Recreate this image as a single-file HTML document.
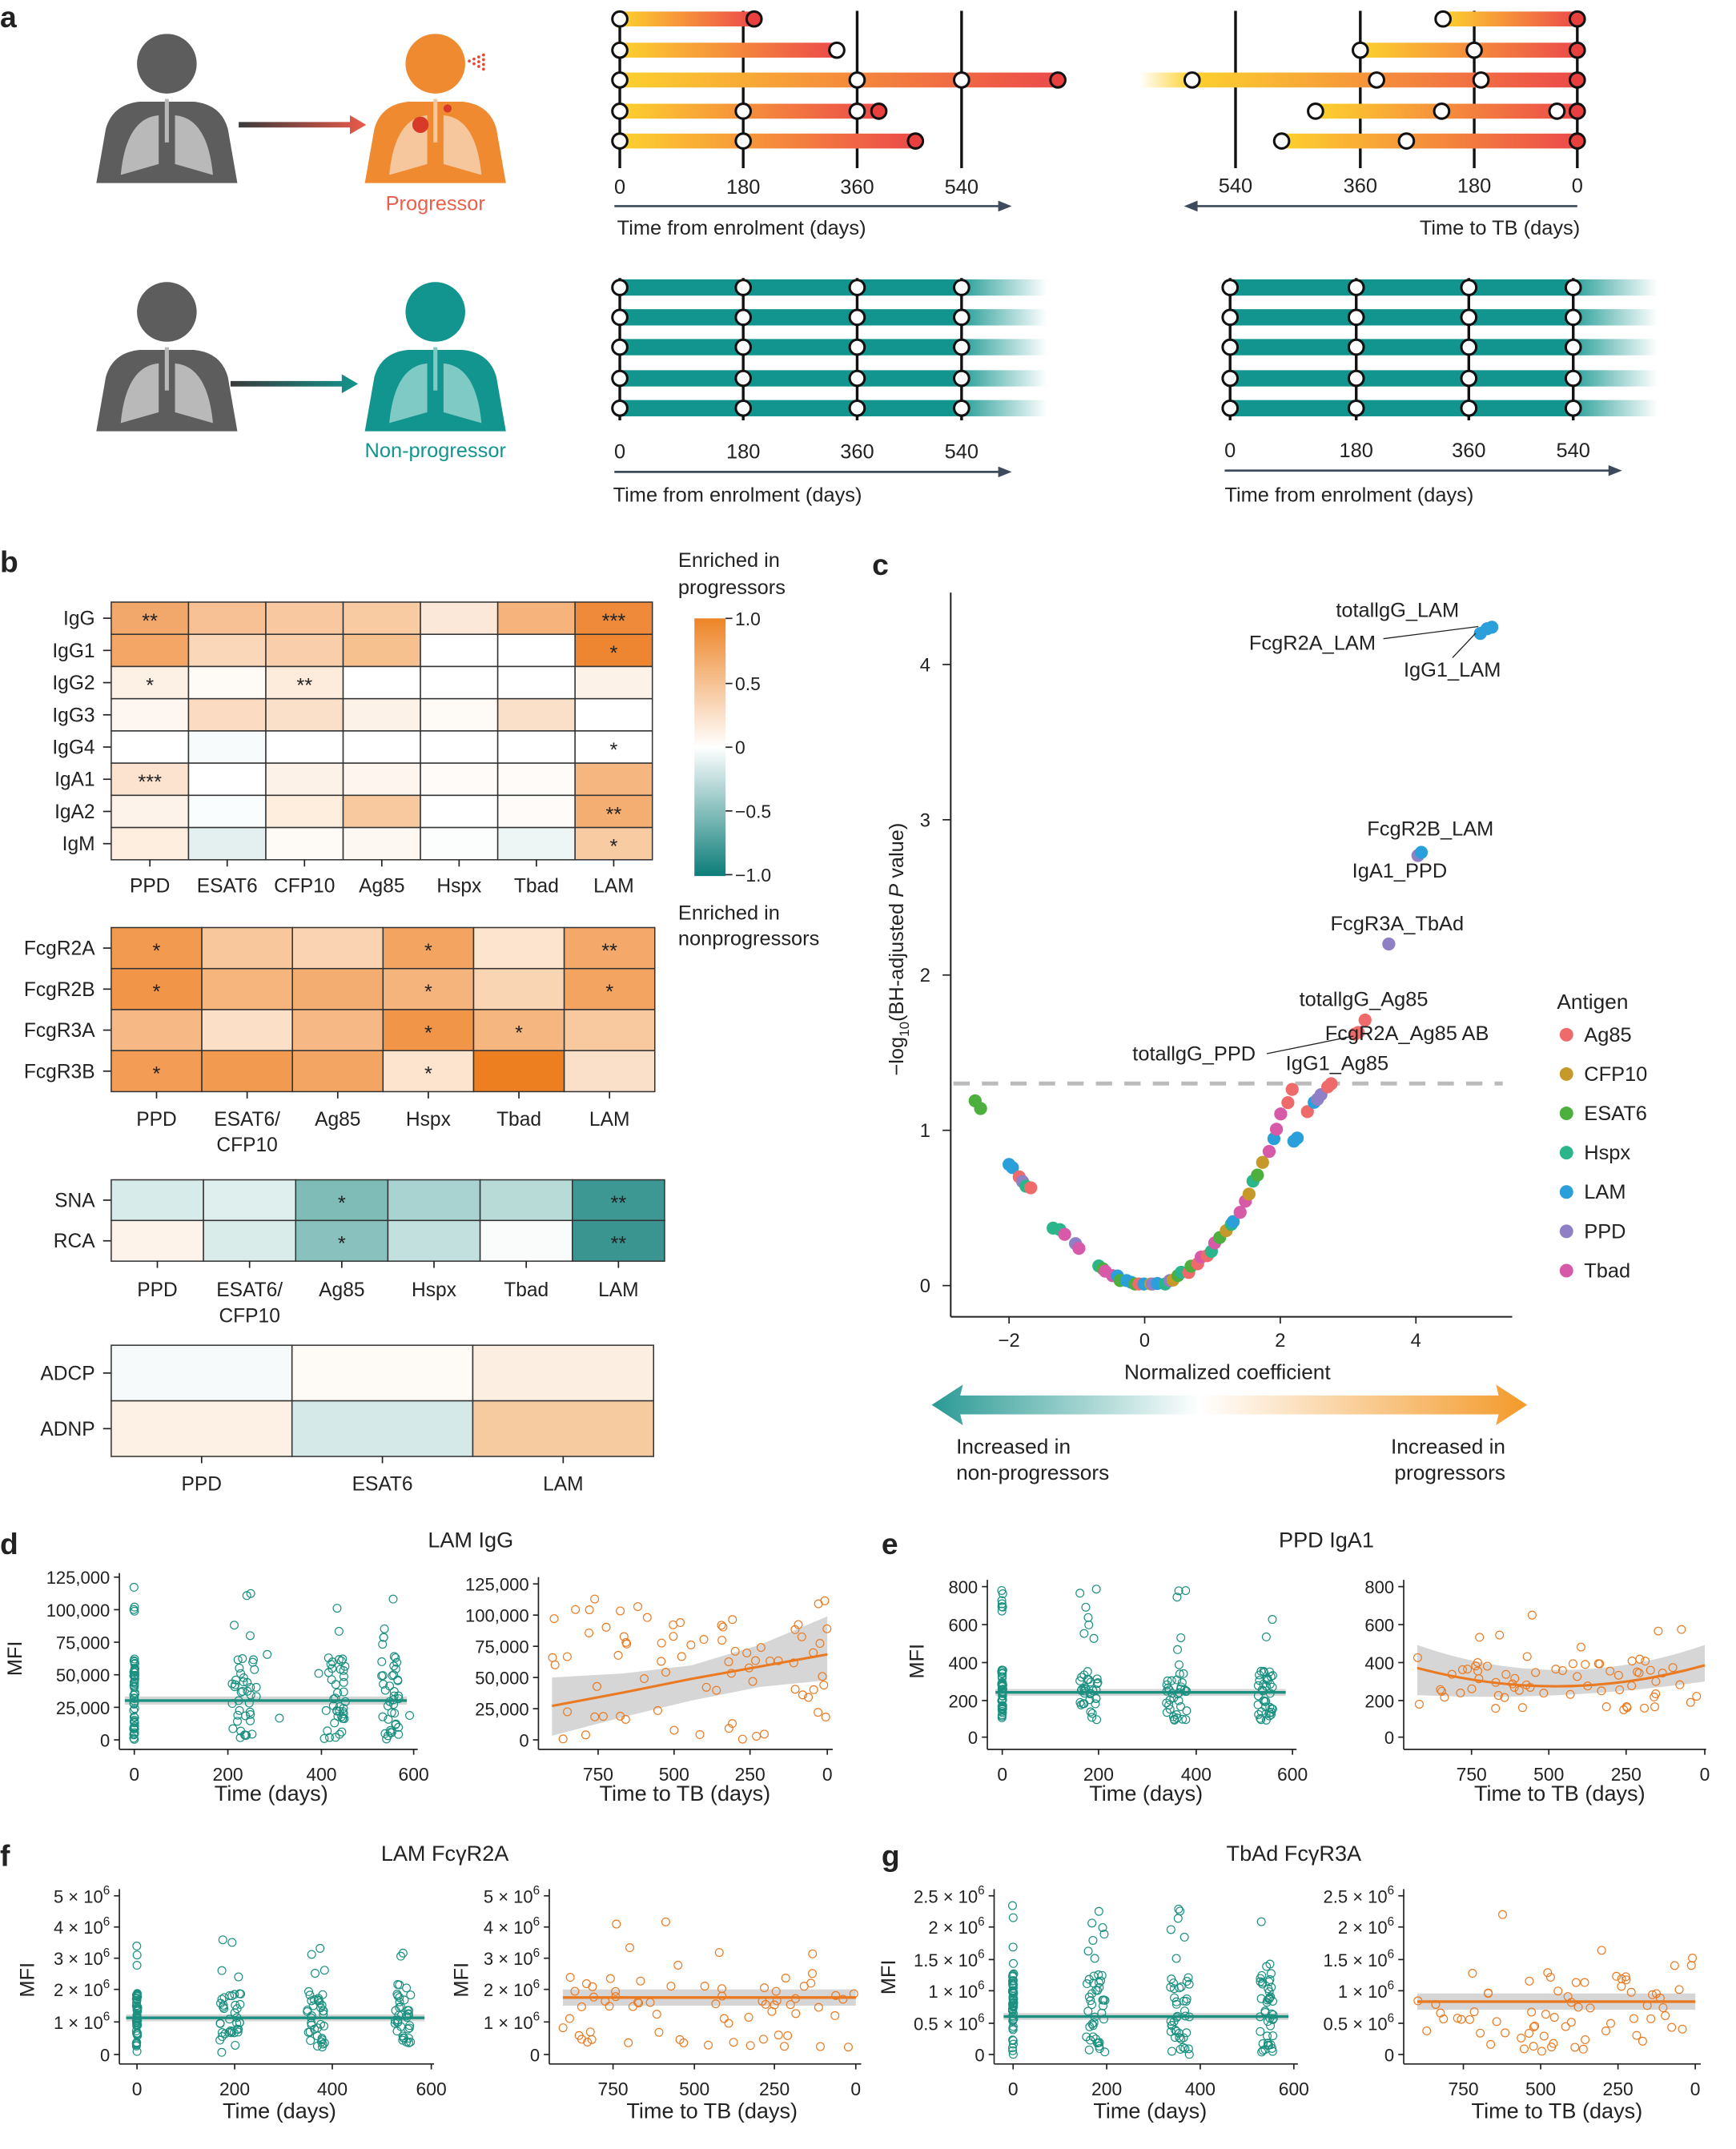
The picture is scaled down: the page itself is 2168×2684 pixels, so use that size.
<!DOCTYPE html>
<html><head><meta charset="utf-8">
<style>
html,body{margin:0;padding:0;background:#fff;}
svg{display:block;}
text{font-family:"Liberation Sans",sans-serif;fill:#222;}
.n{font-family:"Liberation Sans Narrow","Liberation Sans",sans-serif;}
</style></head>
<body>
<svg id="S" xmlns="http://www.w3.org/2000/svg" width="2168" height="2684" viewBox="0 0 1280 1584.7">
<defs>
<linearGradient id="yr" x1="0" x2="1" y1="0" y2="0"><stop offset="0" stop-color="#fdd12e"/><stop offset="1" stop-color="#ec4a4a"/></linearGradient>
<linearGradient id="yrf" x1="0" x2="1" y1="0" y2="0"><stop offset="0" stop-color="#fdd12e" stop-opacity="0"/><stop offset="0.12" stop-color="#fdd12e"/><stop offset="1" stop-color="#ec4a4a"/></linearGradient>
<linearGradient id="tf" x1="0" x2="1" y1="0" y2="0"><stop offset="0" stop-color="#12958e"/><stop offset="0.78" stop-color="#12958e"/><stop offset="1" stop-color="#12958e" stop-opacity="0"/></linearGradient>
<linearGradient id="ga" x1="0" x2="1"><stop offset="0" stop-color="#3a3a3a"/><stop offset="1" stop-color="#ec5a4a"/></linearGradient>
<linearGradient id="gt" x1="0" x2="1"><stop offset="0" stop-color="#3a3a3a"/><stop offset="1" stop-color="#12958e"/></linearGradient>
<linearGradient id="cb" x1="0" x2="0" y1="0" y2="1"><stop offset="0" stop-color="#ed8426"/><stop offset="0.5" stop-color="#ffffff"/><stop offset="1" stop-color="#0c7d79"/></linearGradient>
<linearGradient id="ar" x1="0" x2="1"><stop offset="0" stop-color="#2a9a94"/><stop offset="0.45" stop-color="#ffffff"/><stop offset="1" stop-color="#f39a2a"/></linearGradient>
</defs>
<g id="D"></g>
</svg>
<script>
var s='';
function T(x,y,t,o){o=o||{};s+='<text x="'+x+'" y="'+y+'" font-size="'+(o.fs||14)+'"'+(o.a?' text-anchor="'+o.a+'"':'')+(o.fw?' font-weight="'+o.fw+'"':'')+(o.c?' style="fill:'+o.c+'"':'')+(o.cl?' class="'+o.cl+'"':'')+(o.tr?' transform="'+o.tr+'"':'')+'>'+t+'</text>';}
function L(x1,y1,x2,y2,c,w,d){s+='<line x1="'+x1+'" y1="'+y1+'" x2="'+x2+'" y2="'+y2+'" stroke="'+(c||'#222')+'" stroke-width="'+(w||1)+'"'+(d?' stroke-dasharray="'+d+'"':'')+'/>';}
function R(x,y,w,h,f,st){s+='<rect x="'+x+'" y="'+y+'" width="'+w+'" height="'+h+'" fill="'+f+'"'+(st?' stroke="'+st+'" stroke-width="0.9"':'')+'/>';}
function C(x,y,r,f,st,sw){s+='<circle cx="'+x+'" cy="'+y+'" r="'+r+'" fill="'+f+'"'+(st?' stroke="'+st+'" stroke-width="'+(sw||1)+'"':'')+'/>';}
function P(d,f,st,sw){s+='<path d="'+d+'" fill="'+(f||'none')+'"'+(st?' stroke="'+st+'" stroke-width="'+(sw||1)+'"':'')+'/>';}
var seed=12345;function rnd(){seed|=0;seed=seed+0x6D2B79F5|0;var t=Math.imul(seed^seed>>>15,1|seed);t=t+Math.imul(t^t>>>7,61|t)^t;return((t^t>>>14)>>>0)/4294967296;}

/* ---------- panel a ---------- */
T(0,20,'a',{fs:22,fw:'bold'});
function person(cx,top,col,lung){
  C(cx,top+22,22,col);
  P('M'+(cx-52)+','+(top+110)+' L'+(cx-45)+','+(top+70)+' Q'+(cx-40)+','+(top+52)+' '+(cx-20)+','+(top+50)+' L'+(cx+20)+','+(top+50)+' Q'+(cx+40)+','+(top+52)+' '+(cx+45)+','+(top+70)+' L'+(cx+52)+','+(top+110)+' Z',col);
  P('M'+(cx-6)+','+(top+60)+' Q'+(cx-30)+','+(top+62)+' '+(cx-34)+','+(top+104)+' L'+(cx-6)+','+(top+96)+' Z',lung);
  P('M'+(cx+6)+','+(top+60)+' Q'+(cx+30)+','+(top+62)+' '+(cx+34)+','+(top+104)+' L'+(cx+6)+','+(top+96)+' Z',lung);
  L(cx,top+48,cx,top+80,lung,3);
}
person(123,25,'#5d5d5d','#b9b9b9');
person(321,25,'#ef8a30','#f6c79c');
C(310,92,6,'#d83a2a');C(330,80,3,'#d83a2a');
for(var i=0;i<4;i++)for(var j=0;j<=i;j++)C(346+i*3.5,45-i*1.5+j*3.5,1.1,'#e34a3a');
P('M176,90 L258,90 L258,85 L270,92 L258,99 L258,94 L176,94 Z','url(#ga)');
T(321,155,'Progressor',{a:'middle',fs:15,c:'#e8604c'});
person(123,208,'#5d5d5d','#b9b9b9');
person(321,208,'#12958e','#7fcac4');
P('M170,281 L252,281 L252,276 L264,283 L252,290 L252,285 L170,285 Z','url(#gt)');
T(321,337,'Non-progressor',{a:'middle',fs:15,c:'#12958e'});

var ry=[14,37,59,82,104];
var vl=[457,548,632,709];
vl.forEach(function(x){L(x,8,x,124,'#111',2);});
var ends=[556,617,780,648,675];
var wc=[[457],[457,617],[457,632,709],[457,548,632],[457,548]];
ry.forEach(function(y,i){R(457,y-5.5,ends[i]-457,11,'url(#yr)');});
ry.forEach(function(y,i){wc[i].forEach(function(x){C(x,y,5.5,'#fff','#111',1.8);}); if(i!=1)C(ends[i],y,5.5,'#e8403f','#111',1.8);});
['0','180','360','540'].forEach(function(t,i){T(vl[i],143,t,{a:'middle',fs:15});});
L(453,152,740,152,'#3d4a5c',1.6);P('M746,152 L736,148 L736,156 Z','#3d4a5c');
T(455,173,'Time from enrolment (days)',{fs:15});

var vr=[911,1003,1087,1163];
vr.forEach(function(x){L(x,8,x,124,'#111',2);});
var st=[1064,1003,840,970,945];
var wr=[[1064],[1003,1087],[879,1015,1092],[970,1063,1148],[945,1037]];
ry.forEach(function(y,i){R(st[i],y-5.5,1163-st[i],11,i==2?'url(#yrf)':'url(#yr)');});
ry.forEach(function(y,i){wr[i].forEach(function(x){C(x,y,5.5,'#fff','#111',1.8);});C(1163,y,5.5,'#e8403f','#111',1.8);});
['540','360','180','0'].forEach(function(t,i){T(vr[i],142,t,{a:'middle',fs:15});});
L(880,152,1163,152,'#3d4a5c',1.6);P('M873,152 L883,148 L883,156 Z','#3d4a5c');
T(1165,173,'Time to TB (days)',{a:'end',fs:15});

var by=[212,234,256,279,301];
function teal(x0,x1,xs){
  xs.forEach(function(x){L(x,205,x,310,'#111',2);});
  by.forEach(function(y){R(x0,y-6,x1-x0,12,'url(#tf)');});
  by.forEach(function(y,i){xs.forEach(function(x){C(x,y,5.5,'#fff','#111',1.8);});});
}
teal(457,772,vl);
['0','180','360','540'].forEach(function(t,i){T(vl[i],338,t,{a:'middle',fs:15});});
L(453,348,740,348,'#3d4a5c',1.6);P('M746,348 L736,344 L736,352 Z','#3d4a5c');
T(452,370,'Time from enrolment (days)',{fs:15});
var vb=[907,1000,1083,1160];
teal(907,1222,vb);
['0','180','360','540'].forEach(function(t,i){T(vb[i],337,t,{a:'middle',fs:15});});
L(903,347,1190,347,'#3d4a5c',1.6);P('M1196,347 L1186,343 L1186,351 Z','#3d4a5c');
T(903,370,'Time from enrolment (days)',{fs:15});

/* ---------- panel b ---------- */
T(0,422,'b',{fs:22,fw:'bold'});
function heat(x0,y0,cw,rh,rows,cols,data,stars,lx,ly,ly2){
  for(var r=0;r<rows.length;r++){
    T(x0-12,y0+r*rh+rh/2+5,rows[r],{a:'end',fs:14.5});
    L(x0-6,y0+r*rh+rh/2,x0,y0+r*rh+rh/2,'#222',1);
    for(var c=0;c<cols.length;c++){
      R(x0+c*cw,y0+r*rh,cw,rh,data[r][c],'#333');
      if(stars[r][c])T(x0+c*cw+cw/2,y0+r*rh+rh/2+7,stars[r][c],{a:'middle',fs:15});
    }
  }
  for(var c=0;c<cols.length;c++){
    var cx=x0+c*cw+cw/2;L(cx,y0+rows.length*rh,cx,y0+rows.length*rh+5,'#222',1);
    var p=cols[c].split('|');T(cx,ly,p[0],{a:'middle',fs:14.5});if(p[1])T(cx,ly2,p[1],{a:'middle',fs:14.5});
  }
}
var W='#ffffff';
heat(82,444,57,23.75,['IgG','IgG1','IgG2','IgG3','IgG4','IgA1','IgA2','IgM'],['PPD','ESAT6','CFP10','Ag85','Hspx','Tbad','LAM'],
[['#f2a86a','#f7c195','#f8c9a0','#f8cba3','#fce8d8','#f6b37c','#ee8a3a'],
 ['#f3a665','#fad7b8','#f9cfab','#f7c08f',W,W,'#ee8530'],
 ['#fdf0e5','#fefaf6','#fdecdc',W,W,W,'#fdf2e8'],
 ['#fef7f1','#fbdcc2','#fbe0c9','#fdf2e8','#fefaf6','#fbe0c9',W],
 [W,'#f7fbfb',W,W,W,W,W],
 ['#fbe3cf',W,'#fdf2e8','#fdf5ee','#fefbf8','#fefbf8','#f6b67f'],
 ['#fdf3ea','#fafdfd','#fdeede','#f8c99f',W,'#fefbf8','#f5ae72'],
 ['#fdeedf','#e3f0ef','#fefaf6','#fdf8f2','#fcfdfd','#eef6f5','#f8cba3']],
[['**','','','','','','***'],['','','','','','','*'],['*','','**','','','',''],['','','','','','',''],['','','','','','','*'],['***','','','','','',''],['','','','','','','**'],['','','','','','','*']],
0,658,0);
R(512,456,23,190,'url(#cb)');
[[456,'1.0'],[504,'0.5'],[551,'0'],[598,'\u22120.5'],[645,'\u22121.0']].forEach(function(v){L(535,v[0],540,v[0],'#222',1);T(542,v[0]+5,v[1],{fs:13.5});});
T(500,418,'Enriched in',{fs:15});T(500,438,'progressors',{fs:15});
T(500,678,'Enriched in',{fs:15});T(500,697,'nonprogressors',{fs:15});

heat(82,684,66.8,30.25,['FcgR2A','FcgR2B','FcgR3A','FcgR3B'],['PPD','ESAT6/|CFP10','Ag85','Hspx','Tbad','LAM'],
[['#f29a50','#f8c79c','#fad4b2','#f3a461','#fce4cf','#f4a96a'],
 ['#f19548','#f5b57d','#f4ad71','#f6b47d','#fad5b4','#f3a461'],
 ['#f6b884','#fbdfc6','#f6b884','#f19548','#f6b67f','#f8c99f'],
 ['#f29c55','#f29a50','#f3a563','#fce4cf','#ee7f20','#fbe0c9']],
[['*','','','*','','**'],['*','','','*','','*'],['','','','*','*',''],['*','','','*','','']],
0,830,849);
heat(82,870,68,30,['SNA','RCA'],['PPD','ESAT6/|CFP10','Ag85','Hspx','Tbad','LAM'],
[['#d7ebea','#deefee','#7fbcb8','#a9d3d0','#b8dbd8','#3d9793'],
 ['#fdf3ea','#d9ecea','#88c1bd','#c2e0dd','#fafcfc','#3a9591']],
[['','','*','','','**'],['','','*','','','**']],0,956,975);
heat(82,992,133.3,41,['ADCP','ADNP'],['PPD','ESAT6','LAM'],
[['#f6fafa','#fefaf6','#fcefe2'],['#fdf1e5','#d5eae8','#f7cba0']],[['','',''],['','','']],0,1099,0);

/* ---------- panel c ---------- */
T(643,424,'c',{fs:22,fw:'bold'});
var X0=844,XS=50,Y0=948,YS=114.5;
function px(v){return X0+v*XS;}function py(v){return Y0-v*YS;}
L(701,437,701,971,'#222',1.2);L(701,971,1115,971,'#222',1.2);
[0,1,2,3,4].forEach(function(v){L(695,py(v),701,py(v),'#222',1);T(686,py(v)+5,''+v,{a:'end',fs:14});});
[-2,0,2,4].forEach(function(v){L(px(v),971,px(v),976,'#222',1);T(px(v),993,(v<0?'\u2212':'')+Math.abs(v),{a:'middle',fs:14});});
L(703,799,1108,799,'#bbb',3,'12 9');
T(666,700,'\u2212log<tspan font-size="10" dy="4">10</tspan><tspan dy="-4">(BH-adjusted </tspan><tspan font-style="italic">P</tspan> value)',{a:'middle',fs:15,tr:'rotate(-90 666 700)'});
T(905,1017,'Normalized coefficient',{a:'middle',fs:15.5});
var CO={Ag85:'#ef6b6b',CFP10:'#c59a2a',ESAT6:'#4caf3e',Hspx:'#2bb58a',LAM:'#2b9fd9',PPD:'#8f7fc4',Tbad:'#d65aa8'};
var cl=['Ag85','CFP10','ESAT6','Hspx','LAM','PPD','Tbad'];
var pts=[[-2.5,1.19,'ESAT6'],[-2.42,1.14,'ESAT6'],[-2.0,0.78,'LAM'],[-1.95,0.76,'LAM'],[-1.85,0.7,'Ag85'],[-1.8,0.67,'PPD'],[-1.75,0.64,'Hspx'],[-1.68,0.63,'Ag85'],
[-1.35,0.37,'Hspx'],[-1.25,0.36,'Hspx'],[-1.18,0.33,'Tbad'],[-1.02,0.27,'PPD'],[-0.97,0.24,'Tbad']];
for(var v=-0.7;v<=2.2;v+=0.07){var y=v<0?0.27*v*v:0.24*v*v;if(v>1.3)y=0.24*v*v-0.02+(v-1.3)*0.18;pts.push([v+ (rnd()-0.5)*0.05,Math.max(0.01,y+(rnd()-0.5)*0.03),cl[Math.floor(rnd()*7)]]);}
pts=pts.concat([[2.25,0.95,'LAM'],[2.2,0.93,'LAM'],[2.4,1.12,'Ag85'],[2.5,1.18,'LAM'],[2.55,1.2,'PPD'],[2.6,1.23,'PPD'],[2.7,1.28,'Ag85'],[2.75,1.3,'Ag85'],
[3.1,1.62,'Ag85'],[3.15,1.63,'Ag85'],[3.25,1.71,'Ag85'],[3.6,2.2,'PPD'],[4.03,2.77,'PPD'],[4.08,2.79,'LAM'],[4.95,4.2,'LAM'],[5.05,4.23,'LAM'],[5.12,4.24,'LAM']]);
pts.forEach(function(p){C(px(p[0]),py(p[1]),4.8,CO[p[2]]);});
T(985,455,'totallgG_LAM',{fs:15});T(921,479,'FcgR2A_LAM',{fs:15});L(1020,471,1090,462,'#222',0.8);
T(1035,499,'IgG1_LAM',{fs:15});L(1071,485,1088,467,'#222',0.8);
T(1008,616,'FcgR2B_LAM',{fs:15});T(997,647,'IgA1_PPD',{fs:15});T(981,686,'FcgR3A_TbAd',{fs:15});
T(958,742,'totallgG_Ag85',{fs:15});T(977,767,'FcgR2A_Ag85 AB',{fs:15});
T(835,782,'totallgG_PPD',{fs:15});L(934,777,998,764,'#222',0.8);T(948,789,'IgG1_Ag85',{fs:15});
T(1148,744,'Antigen',{fs:15.5});
cl.forEach(function(k,i){var y=763+i*29;C(1155,y,5,CO[k]);T(1168,y+5,k,{fs:15});});
P('M708,1029 L1105,1029 L1103,1021 L1126,1036 L1103,1051 L1105,1043 L708,1043 L710,1051 L687,1036 L710,1021 Z','url(#ar)');
T(705,1072,'Increased in',{fs:15.5});T(705,1091,'non-progressors',{fs:15.5});
T(1110,1072,'Increased in',{a:'end',fs:15.5});T(1110,1091,'progressors',{a:'end',fs:15.5});

/* ---------- scatter panels ---------- */
var TE='#1b9080',OR='#ea7a22';
function axes(yax,ytop,ybot,yt,xt,xbot,xend,ylabx){
  L(yax,ytop,yax,xbot,'#222',1);L(yax,xbot,xend,xbot,'#222',1);
  yt.forEach(function(t){L(yax-4,t[0],yax,t[0],'#222',1);T(yax-7,t[0]+5,t[1],{a:'end',fs:13,cl:'n'});});
  xt.forEach(function(t){L(t[0],xbot,t[0],xbot+4,'#222',1);T(t[0],xbot+23,t[1],{a:'middle',fs:13.5,cl:'n'});});
}
var RR=2.9;
function cols(cs,n,ybot,yfun,col){cs.forEach(function(c){for(var i=0;i<n;i++){var x=c[0]+(rnd()-0.5)*c[1];C(x,ybot-yfun(),RR,'none',col,0.7);}});}
function sc(n,x0,x1,ybot,yfun,col){for(var i=0;i<n;i++)C(x0+rnd()*(x1-x0),ybot-yfun(),RR,'none',col,0.7);}
function band(x0,x1,y,h,col){R(x0,y-h,x1-x0,2*h,'#d6d6d6');L(x0,y,x1,y,col,2);}

T(0,1146,'d',{fs:22,fw:'bold'});T(347,1141,'LAM IgG',{a:'middle',fs:16,cl:'n'});
var dy=[[1163,'125,000'],[1187,'100,000'],[1211,'75,000'],[1235,'50,000'],[1259,'25,000'],[1283,'0']];
axes(88,1160,1283,dy,[[99,'0'],[168,'200'],[237,'400'],[305,'600']],1290,308);
T(16,1223,'MFI',{a:'middle',fs:15,cl:'n',tr:'rotate(-90 16 1223)'});T(200,1328,'Time (days)',{a:'middle',fs:16,cl:'n'});
band(92,300,1254,3,TE);
function yd(){var r=rnd();return r<0.8?rnd()*60:rnd()*115;}
cols([[99,1]],55,1283,yd,TE);cols([[180,18],[247,16],[288,14]],42,1283,yd,TE);
[[206,1267],[235,1234],[253,1267],[302,1265],[197,1220]].forEach(function(p){C(p[0],p[1],RR,'none',TE,0.7);});
dy=[[1168,'125,000'],[1191,'100,000'],[1214,'75,000'],[1237,'50,000'],[1260,'25,000'],[1283,'0']];
axes(397,1163,1283,dy,[[441,'750'],[497,'500'],[553,'250'],[610,'0']],1290,614);
T(505,1328,'Time to TB (days)',{a:'middle',fs:16,cl:'n'});
P('M407,1237 L460,1234 L510,1228 L560,1213 L610,1192 L610,1239 L560,1244 L510,1254 L460,1266 L407,1280 Z','#d6d6d6');
P('M407,1258 L460,1248 L510,1238 L560,1229 L610,1220','none',OR,1.8);
sc(75,407,610,1283,function(){return rnd()*110;},OR);

T(650,1146,'e',{fs:22,fw:'bold'});T(978,1141,'PPD IgA1',{a:'middle',fs:16,cl:'n'});
var ey=[[1170,'800'],[1198,'600'],[1226,'400'],[1254,'200'],[1281,'0']];
axes(728,1165,1281,ey,[[739,'0'],[810,'200'],[882,'400'],[953,'600']],1290,956);
T(681,1225,'MFI',{a:'middle',fs:15,cl:'n',tr:'rotate(-90 681 1225)'});T(845,1328,'Time (days)',{a:'middle',fs:16,cl:'n'});
band(734,948,1248,2.5,TE);
function ye(){var r=rnd();return r<0.85?12+rnd()*38:30+rnd()*80;}
cols([[739,1]],50,1281,ye,TE);cols([[803,14],[868,16],[933,12]],40,1281,ye,TE);
axes(1035,1165,1281,ey,[[1085,'750'],[1142,'500'],[1199,'250'],[1257,'0']],1290,1258);
T(1150,1328,'Time to TB (days)',{a:'middle',fs:16,cl:'n'});
P('M1045,1213 Q1150,1250 1257,1213 L1257,1240 Q1150,1255 1045,1250 Z','#d6d6d6');
P('M1045,1230 Q1150,1258 1257,1228','none',OR,1.8);
sc(70,1043,1257,1281,function(){return 20+rnd()*(rnd()<0.8?40:75);},OR);

T(0,1376,'f',{fs:22,fw:'bold'});T(328,1372,'LAM Fc\u03b3R2A',{a:'middle',fs:16,cl:'n'});
function e6(v){return v+' \u00d7 10<tspan font-size="9" dy="-6">6</tspan>';}
var fy=[[1398,e6(5)],[1421,e6(4)],[1444,e6(3)],[1467,e6(2)],[1491,e6(1)],[1515,'0']];
axes(88,1393,1515,fy,[[101,'0'],[173,'200'],[245,'400'],[318,'600']],1522,320);
T(25,1460,'MFI',{a:'middle',fs:15,cl:'n',tr:'rotate(-90 25 1460)'});T(206,1562,'Time (days)',{a:'middle',fs:16,cl:'n'});
band(93,313,1488,2.5,TE);
function yf(){var r=rnd();return r<0.8?5+rnd()*40:rnd()*85;}
cols([[101,1]],50,1515,yf,TE);cols([[170,16],[233,14],[297,12]],40,1515,yf,TE);
axes(405,1393,1515,fy,[[452,'750'],[512,'500'],[571,'250'],[631,'0']],1522,635);
T(345,1460,'MFI',{a:'middle',fs:15,cl:'n',tr:'rotate(-90 345 1460)'});T(525,1562,'Time to TB (days)',{a:'middle',fs:16,cl:'n'});
band(415,631,1473,6,OR);
sc(70,415,631,1515,function(){return 5+rnd()*(rnd()<0.8?55:100);},OR);

T(650,1376,'g',{fs:22,fw:'bold'});T(954,1372,'TbAd Fc\u03b3R3A',{a:'middle',fs:16,cl:'n'});
var gy=[[1398,e6('2.5')],[1421,e6(2)],[1445,e6('1.5')],[1468,e6(1)],[1492,e6('0.5')],[1515,'0']];
axes(733,1393,1515,gy,[[747,'0'],[816,'200'],[885,'400'],[954,'600']],1522,957);
T(660,1458,'MFI',{a:'middle',fs:15,cl:'n',tr:'rotate(-90 660 1458)'});T(848,1562,'Time (days)',{a:'middle',fs:16,cl:'n'});
band(740,950,1487,2.5,TE);
function yg(){var r=rnd();return r<0.8?rnd()*60:rnd()*110;}
cols([[747,1]],55,1515,yg,TE);cols([[808,14],[870,14],[934,10]],45,1515,yg,TE);
axes(1035,1393,1515,gy,[[1079,'750'],[1136,'500'],[1193,'250'],[1250,'0']],1522,1254);
T(1148,1562,'Time to TB (days)',{a:'middle',fs:16,cl:'n'});
band(1045,1250,1476,6,OR);
sc(70,1045,1250,1515,function(){return rnd()*(rnd()<0.8?60:105);},OR);

document.getElementById('D').innerHTML=s;
</script>
</body></html>
